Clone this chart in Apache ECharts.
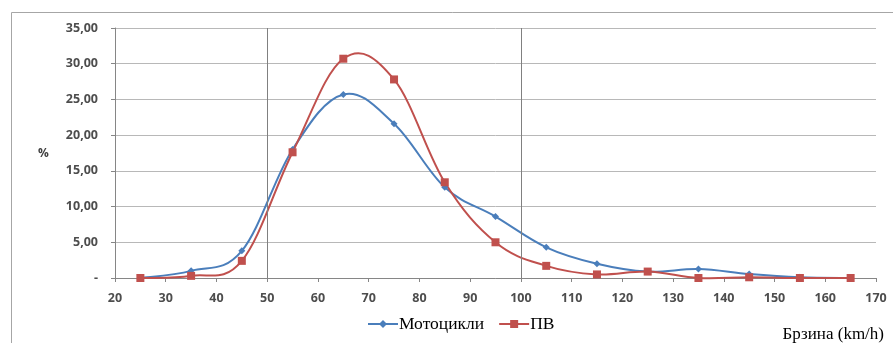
<!DOCTYPE html>
<html>
<head>
<meta charset="utf-8">
<script src="https://cdn.jsdelivr.net/npm/echarts@6/dist/echarts.min.js"></script>
<style>html,body{margin:0;padding:0;background:#fff;}#c{width:893px;height:343px;}</style>
</head>
<body>
<div id="c"></div>
<script>
var speeds = [25, 35, 45, 55, 65, 75, 85, 95, 105, 115, 125, 135, 145, 155, 165];
var moto = [0, 1.0, 3.8, 18.0, 25.7, 21.6, 12.7, 8.6, 4.3, 2.0, 0.9, 1.25, 0.55, 0.1, 0];
var pv = [0, 0.3, 2.4, 17.6, 30.7, 27.8, 13.4, 5.0, 1.7, 0.5, 0.9, 0, 0.1, 0, 0];
var seriesNames = ['Мотоцикли', 'ПВ'];
var colors = ['#4a7ebb', '#c0504d'];
var refLines = [50, 100];

var SERIF = 'Liberation Serif';

function pairs(xs, ys) { return xs.map(function (x, i) { return [x, ys[i]]; }); }

// Excel-like smoothed curve: cubic Bezier segments between data points,
// control points derived from neighbouring points (in pixel space).
var TENSION = 0.18;
function curveSeries(ys, color) {
  var segs = [];
  for (var i = 0; i < speeds.length - 1; i++) segs.push([speeds[i], ys[i], i]);
  return {
    type: 'custom', silent: true, z: 2,
    data: segs,
    renderItem: function (params, api) {
      var i = api.value(2);
      var n = speeds.length;
      function P(k) { k = Math.max(0, Math.min(n - 1, k)); return api.coord([speeds[k], ys[k]]); }
      var p0 = P(i - 1), p1 = P(i), p2 = P(i + 1), p3 = P(i + 2);
      return {
        type: 'bezierCurve',
        shape: {
          x1: p1[0], y1: p1[1], x2: p2[0], y2: p2[1],
          cpx1: p1[0] + (p2[0] - p0[0]) * TENSION, cpy1: p1[1] + (p2[1] - p0[1]) * TENSION,
          cpx2: p2[0] - (p3[0] - p1[0]) * TENSION, cpy2: p2[1] - (p3[1] - p1[1]) * TENSION
        },
        style: { stroke: color, lineWidth: 2, fill: null }
      };
    }
  };
}

var chart = echarts.init(document.getElementById('c'));
chart.setOption({
  animation: false,
  backgroundColor: '#fff',
  graphic: [{
    type: 'rect', left: 9, top: 10, shape: { width: 900, height: 400 },
    style: { fill: 'none', stroke: '#a6a6a6', lineWidth: 1 }, z: -1
  }, {
    type: 'text', left: 38, top: 148,
    style: { text: '%', font: 'bold 12px "Open Sans", sans-serif', fill: '#404040' }
  }],
  grid: { left: 115, right: 17, top: 28, bottom: 64 },
  legend: {
    bottom: 5, left: 362,
    itemWidth: 30, itemHeight: 10, itemGap: 14,
    textStyle: { fontFamily: SERIF, fontSize: 17.5, color: '#000', padding: [0, 0, 0, -4] },
    data: [
      { name: seriesNames[0], lineStyle: { color: colors[0], width: 2, opacity: 1 } },
      { name: seriesNames[1], lineStyle: { color: colors[1], width: 2, opacity: 1 } }
    ]
  },
  xAxis: {
    type: 'value', min: 20, max: 170, interval: 10,
    name: 'Брзина (km/h)', nameLocation: 'end',
    nameGap: 0,
    nameTextStyle: { fontFamily: SERIF, fontSize: 17, color: '#000', align: 'right', verticalAlign: 'top', padding: [48, -8, 0, 0] },
    axisLine: { lineStyle: { color: '#868686' } },
    axisTick: { show: true, length: 4, lineStyle: { color: '#868686' } },
    axisLabel: { color: '#4d4d4d', fontFamily: 'Open Sans', fontSize: 12.5, fontWeight: 'bold', margin: 14 },
    splitLine: { show: false }
  },
  yAxis: {
    type: 'value', min: 0, max: 35, interval: 5,
    axisLine: { show: true, lineStyle: { color: '#868686' } },
    axisTick: { show: true, length: 4, lineStyle: { color: '#868686' } },
    axisLabel: {
      color: '#4d4d4d', fontFamily: 'Open Sans', fontSize: 12.5, fontWeight: 'bold', margin: 17,
      formatter: function (v) { return v === 0 ? '-' : v.toFixed(2).replace('.', ','); }
    },
    splitLine: { lineStyle: { color: '#b8b8b8' } }
  },
  series: [
    curveSeries(moto, colors[0]),
    curveSeries(pv, colors[1]),
    {
      name: seriesNames[0], type: 'line',
      data: pairs(speeds, moto),
      symbol: 'diamond', symbolSize: 7,
      lineStyle: { color: colors[0], width: 2, opacity: 0 },
      itemStyle: { color: colors[0] },
      markLine: {
        silent: true, symbol: 'none', label: { show: false },
        lineStyle: { color: '#808080', width: 1, type: 'solid', opacity: 1 },
        data: refLines.map(function (v) { return { xAxis: v }; })
      },
      z: 3
    }, {
      name: seriesNames[1], type: 'line',
      data: pairs(speeds, pv),
      symbol: 'rect', symbolSize: 8,
      lineStyle: { color: colors[1], width: 2, opacity: 0 },
      itemStyle: { color: colors[1] },
      z: 4
    }
  ]
});
</script>
</body>
</html>
